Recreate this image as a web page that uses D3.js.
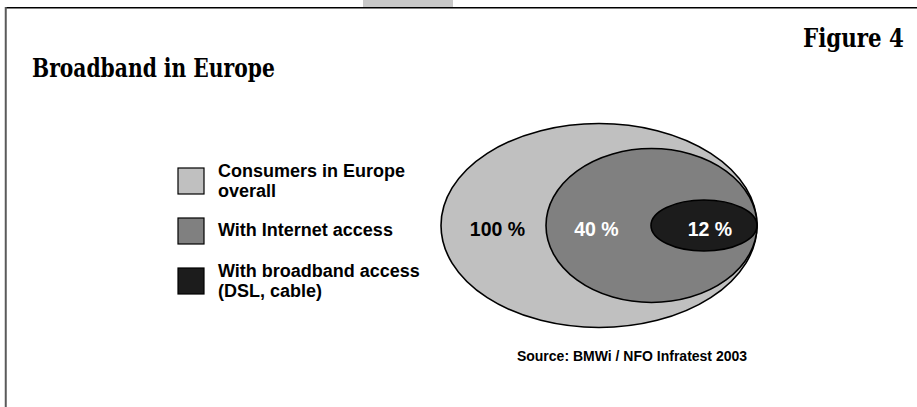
<!DOCTYPE html>
<html>
<head>
<meta charset="utf-8">
<script src="https://cdn.jsdelivr.net/npm/d3@7"></script>
<style>
  html, body { margin: 0; padding: 0; background: #fff; }
  svg { display: block; }
</style>
</head>
<body>
<svg id="chart" width="917" height="407"></svg>
<script>
// ---- data ----
const categories = ["Consumers in Europe overall", "With Internet access", "With broadband access (DSL, cable)"];
const legendLines = [["Consumers in Europe", "overall"], ["With Internet access"], ["With broadband access", "(DSL, cable)"]];
const values = [100, 40, 12];
const valueLabels = ["100 %", "40 %", "12 %"];
const titleText = "Broadband in Europe";
const figureText = "Figure 4";
const sourceText = "Source: BMWi / NFO Infratest 2003";

// ---- layout / style ----
const fills = ["#c0c0c0", "#808080", "#1c1c1c"];
const labelColors = ["#000", "#fff", "#fff"];
const rightEdge = 757, cy = 225.5;
const rxScale = d3.scaleOrdinal().domain(values).range([158, 105.5, 53]);
const ryScale = d3.scaleOrdinal().domain(values).range([102, 77, 25.5]);
const labelShift = [4, -2, 6];

const svg = d3.select("#chart");
const sans = "'Liberation Sans', Arial, sans-serif";
const serif = "'DejaVu Serif', 'Liberation Serif', serif";

// frame
svg.append("rect").attr("x", 363).attr("y", 0).attr("width", 90).attr("height", 7).attr("fill", "#c8c8c8");
svg.append("line").attr("x1", 5).attr("x2", 917).attr("y1", 7.75).attr("y2", 7.75).attr("stroke", "#000").attr("stroke-width", 1.5);
svg.append("line").attr("x1", 5.75).attr("x2", 5.75).attr("y1", 7).attr("y2", 407).attr("stroke", "#5a5a5a").attr("stroke-width", 2);

// condensed serif headings (horizontal scale to the target width)
function heading(text, x, y, width) {
  const t = svg.append("text").attr("x", 0).attr("y", 0).attr("font-family", serif)
    .attr("font-weight", "bold").attr("font-size", 26).text(text);
  const natural = t.node().getComputedTextLength();
  t.attr("transform", `translate(${x},${y}) scale(${width / natural},1)`);
}
heading(titleText, 32, 77, 243);
heading(figureText, 803, 47, 101);

// ellipses
const shapes = values.map((v, i) => ({ v, i, rx: rxScale(v), ry: ryScale(v), cx: rightEdge - rxScale(v) }));
svg.append("g").selectAll("ellipse").data(shapes).join("ellipse")
  .attr("cx", d => d.cx).attr("cy", cy).attr("rx", d => d.rx).attr("ry", d => d.ry)
  .attr("fill", d => fills[d.i]).attr("stroke", "#000").attr("stroke-width", 1.6);

// value labels
svg.append("g").selectAll("text").data(shapes).join("text")
  .attr("x", (d, i) => {
    const left = d.cx - d.rx;
    if (i < shapes.length - 1) { const n = shapes[i + 1]; return (left + (n.cx - n.rx)) / 2 + labelShift[i]; }
    return d.cx + labelShift[i];
  })
  .attr("y", 236).attr("text-anchor", "middle").attr("font-family", sans).attr("font-weight", "bold")
  .attr("font-size", 19.5).attr("fill", (d, i) => labelColors[i]).text((d, i) => valueLabels[i]);

// legend
const legY = d3.scalePoint().domain(categories).range([168, 268]);
const leg = svg.append("g").selectAll("g").data(categories).join("g")
  .attr("transform", d => `translate(178,${legY(d)})`);
leg.append("rect").attr("width", 26).attr("height", 26)
  .attr("fill", (d, i) => fills[i]).attr("stroke", "#000").attr("stroke-width", 1.2);
leg.append("text").attr("font-family", sans).attr("font-weight", "bold").attr("font-size", 18)
  .each(function(d, i) {
    const lines = legendLines[i];
    const t = d3.select(this);
    const y0 = lines.length === 1 ? 18 : 9;
    lines.forEach((l, j) => t.append("tspan").attr("x", 40).attr("y", y0 + j * 20).text(l));
  });

// source
svg.append("text").attr("x", 632).attr("y", 361).attr("text-anchor", "middle").attr("font-family", sans)
  .attr("font-weight", "bold").attr("font-size", 14).text(sourceText);
</script>
</body>
</html>
